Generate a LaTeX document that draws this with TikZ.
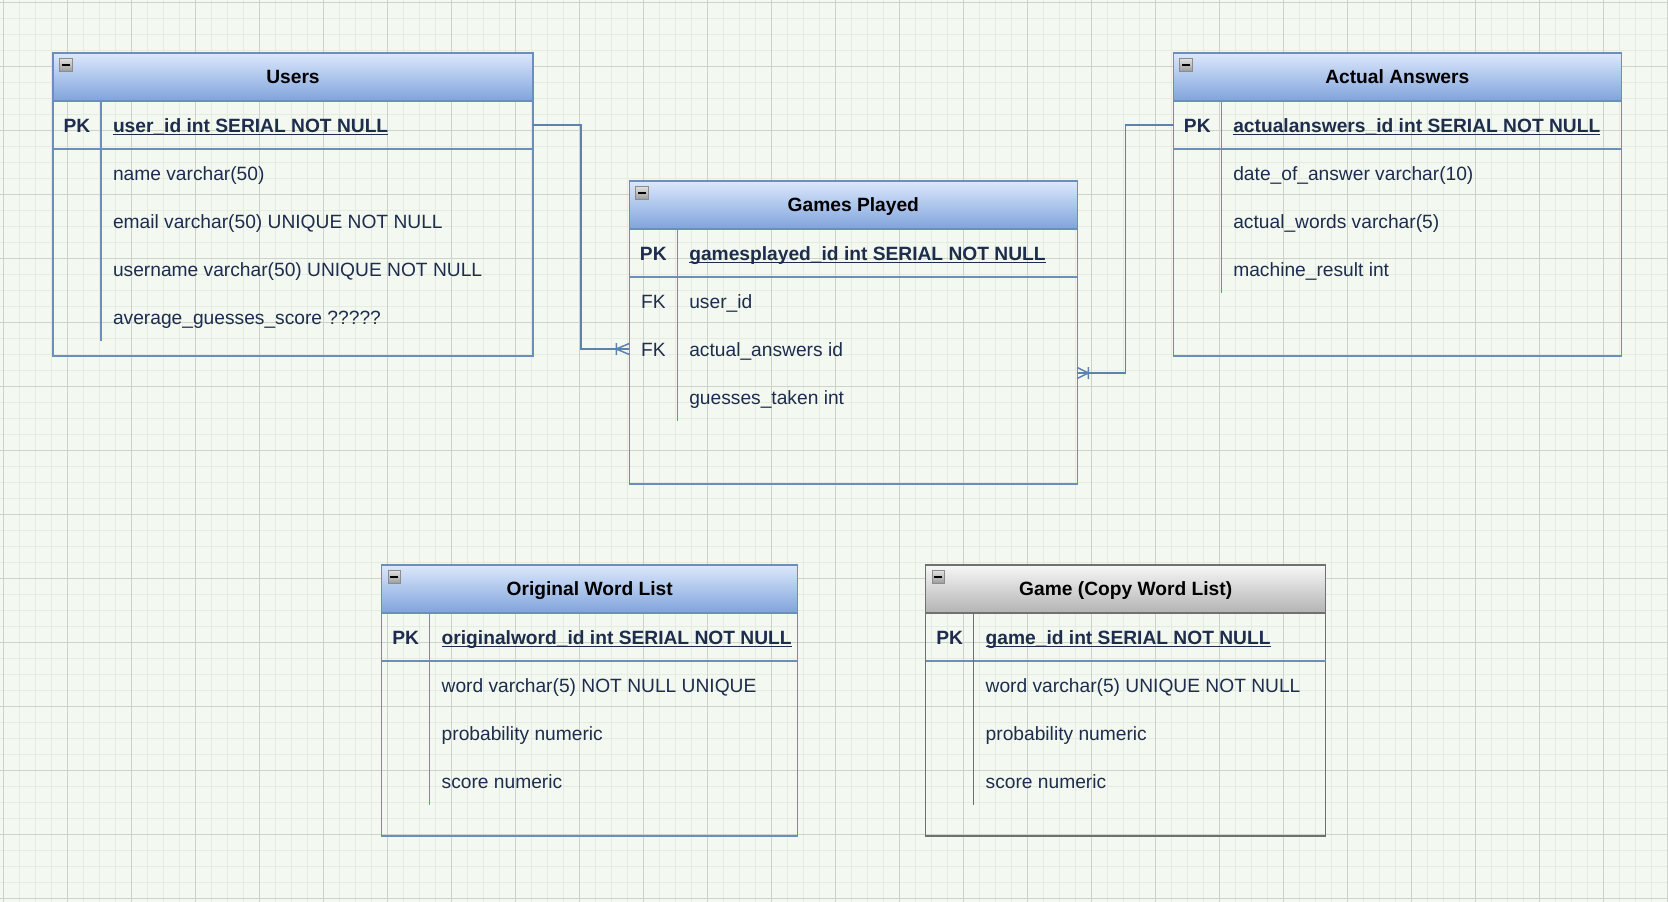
\documentclass[tikz,border=0pt]{standalone}
\usepackage{fontspec}
\setmainfont{Liberation Sans}

\definecolor{paper}{HTML}{F3F9F0}
\definecolor{gridminor}{HTML}{E4ECE2}
\definecolor{gridmajor}{HTML}{CDD2CB}
\definecolor{erblue}{HTML}{6C8EBF}
\definecolor{hdrtop}{HTML}{DCE8FB}
\definecolor{hdrbot}{HTML}{7FA3DC}
\definecolor{ergray}{HTML}{707070}
\definecolor{hdrgtop}{HTML}{F7F7F7}
\definecolor{hdrgbot}{HTML}{B3B3B3}
\definecolor{ertext}{HTML}{1E2C4E}
\definecolor{linkcol}{HTML}{5C82B0}

% underline sitting just below the baseline, as in the key fields
\newcommand{\keyul}[1]{\setbox0=\hbox{#1}\rlap{\rule[-2.8pt]{\wd0}{1.4pt}}\box0}
\newcommand{\erfont}{\fontsize{19.2pt}{23pt}\selectfont}

% table frame, header and collapse button
\newcommand{\ertable}[7]{%
  \node[tblframe#7, minimum width=#4pt, minimum height=#5pt] (#1) at (#2,#3) {};
  \node[tblhead#7, minimum width=#4pt] (#1head) at (#1.north west) {#6};
  \node[minusbtn] (#1min) at ([xshift=12.7pt,yshift=-11.7pt]#1.north west) {};
}
% one attribute row: id, node above, width, key label, key style, field style, text
\newcommand{\errow}[7]{%
  \node[rowbox, minimum width=#3pt] (#1) at (#2.south west) {};
  \node[#5] (#1key) at ([xshift=24pt,yshift=-7.5pt]#1.west) {#4};
  \node[#6] (#1txt) at ([xshift=60pt,yshift=-7.5pt]#1.west) {#7};
}

\begin{document}
\begin{tikzpicture}[x=1pt,y=-1pt,
  every node/.style={inner sep=0pt, outer sep=0pt, font=\erfont},
  tblframeblue/.style={draw=erblue, line width=1.5pt, anchor=north west, rectangle},
  tblframegray/.style={draw=ergray, line width=1.5pt, anchor=north west, rectangle},
  tblheadblue/.style={draw=erblue, line width=1.5pt, anchor=north west,
    top color=hdrtop, bottom color=hdrbot, minimum height=48pt,
    text height=13.8pt, text depth=0pt, text=black, font=\erfont\bfseries},
  tblheadgray/.style={draw=ergray, line width=1.5pt, anchor=north west,
    top color=hdrgtop, bottom color=hdrgbot, minimum height=48pt,
    text height=13.8pt, text depth=0pt, text=black, font=\erfont\bfseries},
  minusbtn/.style={draw=black!45, line width=0.9pt, top color=black!12, bottom color=black!38,
    minimum size=12.5pt,
    path picture={\draw[black, line width=2.3pt]
      ([xshift=2.2pt]path picture bounding box.west) -- ([xshift=-2.2pt]path picture bounding box.east);}},
  rowbox/.style={anchor=north west, minimum height=48pt, rectangle},
  keypk/.style={anchor=base, text=ertext, font=\erfont\bfseries},
  keyfk/.style={anchor=base, text=ertext},
  fieldpk/.style={anchor=base west, text=ertext, font=\erfont\bfseries},
  field/.style={anchor=base west, text=ertext},
  sepblue/.style={draw=erblue, line width=1.5pt},
  sepgray/.style={draw=ergray, line width=1.5pt},
  link/.style={draw=linkcol, line width=1.5pt},
]
\useasboundingbox (0,0) rectangle (1668,902);

% paper and grid
\fill[paper] (0,0) rectangle (1668,902);
\foreach \i in {0,...,104} \draw[gridminor, line width=1pt] (3.3+16*\i,0) -- (3.3+16*\i,902);
\foreach \j in {0,...,56} \draw[gridminor, line width=1pt] (0,2.9+16*\j) -- (1668,2.9+16*\j);
\foreach \i in {0,...,26} \draw[gridmajor, line width=1pt] (3.3+64*\i,0) -- (3.3+64*\i,902);
\foreach \j in {0,...,14} \draw[gridmajor, line width=1pt] (0,2.9+64*\j) -- (1668,2.9+64*\j);

% Users
\ertable{u}{53}{53}{480}{303}{Users}{blue}
\errow{upk}{uhead}{480}{PK}{keypk}{fieldpk}{\keyul{user\_id int SERIAL NOT NULL}}
\errow{ur1}{upk}{480}{}{keyfk}{field}{name varchar(50)}
\errow{ur2}{ur1}{480}{}{keyfk}{field}{email varchar(50) UNIQUE NOT NULL}
\errow{ur3}{ur2}{480}{}{keyfk}{field}{username varchar(50) UNIQUE NOT NULL}
\errow{ur4}{ur3}{480}{}{keyfk}{field}{average\_guesses\_score ?????}
\draw[sepblue] (upk.south west) -- (upk.south east);
\draw[sepblue] ([xshift=48pt]uhead.south west) -- ([xshift=48pt]ur4.south west);

% Games Played
\ertable{g}{629.3}{181}{448}{303}{Games Played}{blue}
\errow{gpk}{ghead}{448}{PK}{keypk}{fieldpk}{\keyul{gamesplayed\_id int SERIAL NOT NULL}}
\errow{gr1}{gpk}{448}{FK}{keyfk}{field}{user\_id}
\errow{gr2}{gr1}{448}{FK}{keyfk}{field}{actual\_answers id}
\errow{gr3}{gr2}{448}{}{keyfk}{field}{guesses\_taken int}
\draw[sepblue] (gpk.south west) -- (gpk.south east);
\draw[sepblue] ([xshift=48pt]ghead.south west) -- ([xshift=48pt]gr3.south west);

% Actual Answers
\ertable{a}{1173.3}{53}{448}{303}{Actual Answers}{blue}
\errow{apk}{ahead}{448}{PK}{keypk}{fieldpk}{\keyul{actualanswers\_id int SERIAL NOT NULL}}
\errow{ar1}{apk}{448}{}{keyfk}{field}{date\_of\_answer varchar(10)}
\errow{ar2}{ar1}{448}{}{keyfk}{field}{actual\_words varchar(5)}
\errow{ar3}{ar2}{448}{}{keyfk}{field}{machine\_result int}
\draw[sepblue] (apk.south west) -- (apk.south east);
\draw[sepblue] ([xshift=48pt]ahead.south west) -- ([xshift=48pt]ar3.south west);

% Original Word List
\ertable{o}{381.7}{565}{416}{271}{Original Word List}{blue}
\errow{opk}{ohead}{416}{PK}{keypk}{fieldpk}{\keyul{originalword\_id int SERIAL NOT NULL}}
\errow{or1}{opk}{416}{}{keyfk}{field}{word varchar(5) NOT NULL UNIQUE}
\errow{or2}{or1}{416}{}{keyfk}{field}{probability numeric}
\errow{or3}{or2}{416}{}{keyfk}{field}{score numeric}
\draw[sepblue] (opk.south west) -- (opk.south east);
\draw[sepblue] ([xshift=48pt]ohead.south west) -- ([xshift=48pt]or3.south west);

% Game (Copy Word List)
\ertable{c}{925.7}{565}{400}{271}{Game (Copy Word List)}{gray}
\errow{cpk}{chead}{400}{PK}{keypk}{fieldpk}{\keyul{game\_id int SERIAL NOT NULL}}
\errow{cr1}{cpk}{400}{}{keyfk}{field}{word varchar(5) UNIQUE NOT NULL}
\errow{cr2}{cr1}{400}{}{keyfk}{field}{probability numeric}
\errow{cr3}{cr2}{400}{}{keyfk}{field}{score numeric}
\draw[sepblue] (cpk.south west) -- (cpk.south east);
\draw[sepgray] ([xshift=48pt]chead.south west) -- ([xshift=48pt]cr3.south west);

% Users -> Games Played (one to many)
\draw[link] (upk.east) -- ++(48,0) |- (gr2.west);
\draw[link] ([xshift=-13pt]gr2.west) -- ([yshift=5.5pt]gr2.west)
            ([xshift=-13pt]gr2.west) -- ([yshift=-5.5pt]gr2.west)
            ([xshift=-13pt,yshift=6pt]gr2.west) -- ([xshift=-13pt,yshift=-6pt]gr2.west);

% Actual Answers -> Games Played (one to many)
\draw[link] (apk.west) -- ++(-48,0) |- (gr2.south east);
\draw[link] ([xshift=11pt]gr2.south east) -- ([yshift=5.5pt]gr2.south east)
            ([xshift=11pt]gr2.south east) -- ([yshift=-5.5pt]gr2.south east)
            ([xshift=11pt,yshift=6pt]gr2.south east) -- ([xshift=11pt,yshift=-6pt]gr2.south east);
\end{tikzpicture}
\end{document}
